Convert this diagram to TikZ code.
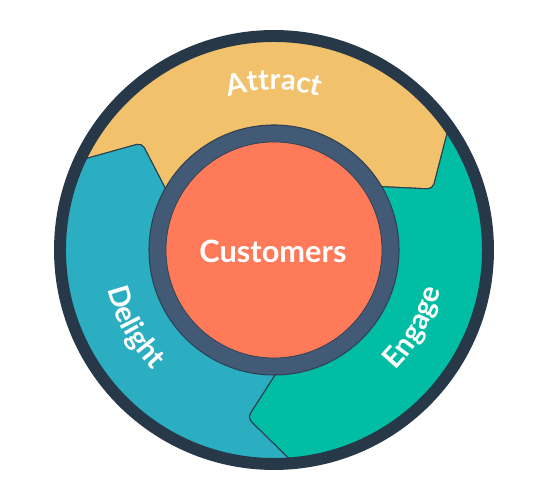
\documentclass[tikz,border=0pt]{standalone}
\usepackage{fontspec}
\setmainfont{Lato}
\usetikzlibrary{decorations.text}
\definecolor{flyyellow}{HTML}{F2C16C}
\definecolor{flygreen}{HTML}{00BDA3}
\definecolor{flyblue}{HTML}{2BAEC1}
\definecolor{rimdark}{HTML}{273849}
\definecolor{hubring}{HTML}{425A75}
\definecolor{hubfill}{HTML}{FF7A59}
\definecolor{edgegray}{HTML}{2E4052}
\newcommand\flyfont{\fontsize{16.5}{19}\selectfont\bfseries}
\newcommand\hubfont{\fontsize{17.5}{20}\selectfont\bfseries}

\begin{document}
\begin{tikzpicture}[scale=0.02,
    segment/.style={draw=edgegray, line width=0.6pt, rounded corners=3pt},
    wheeltext/.style={decorate, decoration={text along path, text align=center,
                      text color=white, text={|\flyfont|#1}}},
    hubtext/.style={font=\hubfont, text=white}
]

\fill[white] (-274,-250) rectangle (276,250);
\useasboundingbox (-274,-250) rectangle (276,250);

% --- segments ---
\draw[segment, fill=flyyellow] (155:213) arc[start angle=155, end angle=35, radius=213]
    -- (21:170) -- (32:120) arc[start angle=32, end angle=152, radius=120] -- (141:170) -- cycle;
\draw[segment, fill=flygreen] (35:213) arc[start angle=35, end angle=-85, radius=213]
    -- (-99:170) -- (-88:120) arc[start angle=-88, end angle=32, radius=120] -- (21:170) -- cycle;
\draw[segment, fill=flyblue] (-85:213) arc[start angle=-85, end angle=-205, radius=213]
    -- (141:170) -- (152:120) arc[start angle=152, end angle=272, radius=120] -- (-99:170) -- cycle;

% --- rings ---
\draw[rimdark, line width=6.8pt] (0,0) circle (214);
\draw[draw=hubring, fill=hubfill, line width=9.6pt] (0,0) circle (116.5);
\draw[edgegray, line width=0.6pt] (0,0) circle (125);
\draw[edgegray, line width=0.4pt] (0,0) circle (108);

% --- labels ---
\node[hubtext] (hub) at (-1,-1) {Customers};
\path[wheeltext=Attract] (110:160) arc[start angle=110, end angle=70, radius=160];
\path[wheeltext=Engage] (-49:171) arc[start angle=-49, end angle=-9, radius=171];
\path[wheeltext=Delight] (189:171) arc[start angle=189, end angle=229, radius=171];

\end{tikzpicture}
\end{document}
